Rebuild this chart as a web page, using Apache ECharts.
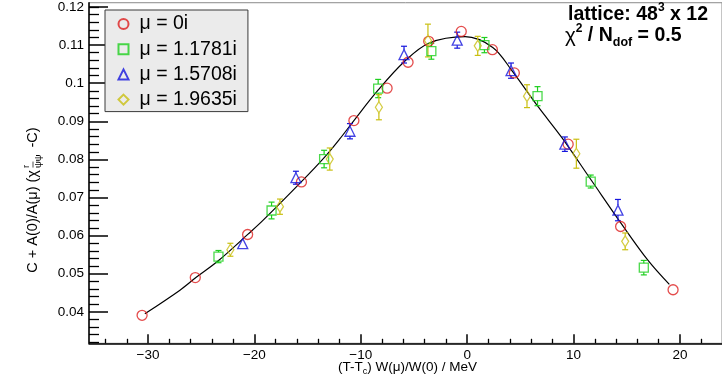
<!DOCTYPE html>
<html><head><meta charset="utf-8">
<script src="https://cdn.jsdelivr.net/npm/echarts@6/dist/echarts.min.js"></script>
<style>html,body{margin:0;padding:0;background:#fff}#c{width:722px;height:383px}</style>
</head><body><div id="c"></div>
<script>
// ---------------- data ----------------
const seriesNames = ['μ = 0i', 'μ = 1.1781i', 'μ = 1.5708i', 'μ = 1.9635i'];
const seriesColors = ['#dd1f1f', '#1ecf1e', '#1515dd', '#c9bf10'];

const mu0X = [-30.56, -25.56, -20.64, -15.58, -10.65, -7.53, -5.56, -3.62, -0.56, 2.37, 4.43, 9.49, 14.42, 19.35];
const mu0Y = [0.0391, 0.0490, 0.0603, 0.0741, 0.0902, 0.0987, 0.1055, 0.1110, 0.1136, 0.1088, 0.1027, 0.0840, 0.0624, 0.0458];
const mu0E = [0.0004, 0.0004, 0.0004, 0.0004, 0.0005, 0.0005, 0.0005, 0.0006, 0.0014, 0.0006, 0.0006, 0.0006, 0.0006, 0.0005];

const mu1X = [-23.38, -18.39, -13.45, -8.37, -3.37, 1.62, 6.61, 11.61, 16.6];
const mu1Y = [0.0545, 0.0666, 0.0801, 0.0986, 0.1084, 0.1100, 0.0966, 0.0742, 0.0516];
const mu1E = [0.0016, 0.0022, 0.0023, 0.0024, 0.0021, 0.0020, 0.0025, 0.0017, 0.0019];

const mu2X = [-21.1, -16.1, -11.02, -5.94, -0.94, 4.12, 9.18, 14.17];
const mu2Y = [0.0579, 0.0752, 0.0874, 0.1075, 0.1113, 0.1033, 0.0840, 0.0667];
const mu2E = [0.0005, 0.0017, 0.0020, 0.0022, 0.0021, 0.0020, 0.0019, 0.0028];

const mu3X = [-22.26, -17.6, -12.92, -8.3, -3.69, 0.99, 5.62, 10.26, 14.85];
const mu3Y = [0.0563, 0.0676, 0.0801, 0.0937, 0.1112, 0.1098, 0.0966, 0.0815, 0.0585];
const mu3E = [0.0017, 0.0020, 0.0029, 0.0033, 0.0043, 0.0025, 0.0030, 0.0038, 0.0022];

// fit curve
const fitX = [-30.3, -27.0, -25.5, -23.4, -20.6, -19.2, -15.6, -13.4, -12.0, -10.65, -8.4, -5.9, -3.6, -0.2, 2.4, 4.2, 6.7, 8.9, 11.7, 14.5, 17.0, 19.0];
const fitY = [0.0395, 0.0457, 0.0490, 0.0534, 0.0604, 0.0640, 0.0741, 0.0806, 0.0853, 0.0902, 0.0981, 0.1057, 0.1105, 0.1122, 0.1094, 0.1033, 0.0937, 0.0857, 0.0744, 0.0631, 0.0535, 0.0472];

// axes
const xMin = -35.55, xMax = 23.95;
const yMin = 0.03175, yMax = 0.12112;
const xMajor = [-30, -20, -10, 0, 10, 20];
const xMajorLabels = ['−30', '−20', '−10', '0', '10', '20'];
const xMinor = [-34, -32, -28, -26, -24, -22, -18, -16, -14, -12, -8, -6, -4, -2, 2, 4, 6, 8, 12, 14, 16, 18, 22];
const yMajor = [0.04, 0.05, 0.06, 0.07, 0.08, 0.09, 0.10, 0.11, 0.12];
const yMajorLabels = ['0.04', '0.05', '0.06', '0.07', '0.08', '0.09', '0.1', '0.11', '0.12'];
const yMinor = [0.032, 0.034, 0.036, 0.038, 0.042, 0.044, 0.046, 0.048, 0.052, 0.054, 0.056, 0.058,
  0.062, 0.064, 0.066, 0.068, 0.072, 0.074, 0.076, 0.078, 0.082, 0.084, 0.086, 0.088,
  0.092, 0.094, 0.096, 0.098, 0.102, 0.104, 0.106, 0.108, 0.112, 0.114, 0.116, 0.118, 0.120];

// ---------------- helpers ----------------
const FONT = '"Liberation Sans", Arial, Helvetica, sans-serif';
const mctx = document.createElement('canvas').getContext('2d');
function tw(t, s, w) { mctx.font = (w || 'normal') + ' ' + s + 'px ' + FONT; return mctx.measureText(t).width; }
function txt(t, x, y, s, w) {
  const font = (w || 'normal') + ' ' + s + 'px ' + FONT;
  return { type: 'text', x: x, y: y, style: { text: t, font: font, fill: '#000',
    textAlign: 'left', textVerticalAlign: 'middle', align: 'left', verticalAlign: 'middle' } };
}
// lay out runs left to right; item: {t,s,w,dy} or {stack:[...]} or {gap}
function layoutRuns(parts, startX, y) {
  const out = [];
  let x = startX;
  parts.forEach(p => {
    if (p.gap) { x += p.gap; return; }
    if (p.stack) {
      let wmax = 0;
      p.stack.forEach(q => {
        out.push(txt(q.t, x, y + (q.dy || 0), q.s, q.w));
        wmax = Math.max(wmax, tw(q.t, q.s, q.w));
        if (q.bar) out.push({ type: 'line', shape: { x1: x + q.bar[0], y1: y + (q.dy || 0) - q.bar[2], x2: x + q.bar[1], y2: y + (q.dy || 0) - q.bar[2] }, style: { stroke: '#000', lineWidth: 0.7 } });
      });
      x += wmax;
    } else {
      out.push(txt(p.t, x, y + (p.dy || 0), p.s, p.w));
      x += tw(p.t, p.s, p.w);
    }
  });
  return { children: out, width: x - startX };
}
function runsWidth(parts) { return layoutRuns(parts, 0, 0).width; }

function pairs(xs, ys, es) { return xs.map((x, i) => es ? [x, ys[i], es[i]] : [x, ys[i]]); }
function idxLabel(vals, labels, v) { let bi = 0, bd = Infinity; vals.forEach((u, i) => { const d = Math.abs(u - v); if (d < bd) { bd = d; bi = i; } }); return bd < 1e-6 ? labels[bi] : ''; }

function errRender(gap) {
  return function (params, api) {
    const x = api.value(0), y = api.value(1), e = api.value(2);
    const p = api.coord([x, y]), t = api.coord([x, y + e]), b = api.coord([x, y - e]);
    const col = api.visual('color');
    const st = { stroke: col, lineWidth: 1.2 };
    const ch = [];
    const cap = 3;
    if (p[1] - t[1] > gap + 0.5) {
      ch.push({ type: 'line', shape: { x1: p[0], y1: p[1] - gap, x2: p[0], y2: t[1] }, style: st });
      ch.push({ type: 'line', shape: { x1: p[0] - cap, y1: t[1], x2: p[0] + cap, y2: t[1] }, style: st });
    }
    if (b[1] - p[1] > gap + 0.5) {
      ch.push({ type: 'line', shape: { x1: p[0], y1: p[1] + gap, x2: p[0], y2: b[1] }, style: st });
      ch.push({ type: 'line', shape: { x1: p[0] - cap, y1: b[1], x2: p[0] + cap, y2: b[1] }, style: st });
    }
    return { type: 'group', children: ch };
  };
}

// ---------------- series ----------------
const dataSets = [pairs(mu0X, mu0Y, mu0E), pairs(mu1X, mu1Y, mu1E), pairs(mu2X, mu2Y, mu2E), pairs(mu3X, mu3Y, mu3E)];
const symbols = ['circle', 'rect', 'triangle', 'diamond'];
const symbolSizes = [10, 9, [10, 10], [7, 11]];
const gaps = [5, 4.5, 5, 5.5];

const series = [{
  type: 'line', name: 'fit', data: pairs(fitX, fitY), smooth: 0.35, showSymbol: false, symbol: 'none',
  lineStyle: { color: '#000', width: 1.2 }, z: 1, silent: true
}];
dataSets.forEach((d, i) => {
  series.push({
    type: 'custom', name: 'err' + i, data: d, renderItem: errRender(gaps[i]),
    itemStyle: { color: seriesColors[i] }, encode: { x: 0, y: 1 }, z: 2, silent: true
  });
  series.push({
    type: 'scatter', name: seriesNames[i], data: d.map(r => [r[0], r[1]]),
    symbol: symbols[i], symbolSize: symbolSizes[i],
    itemStyle: { color: 'rgba(255,255,255,0)', borderColor: seriesColors[i], borderWidth: 1.3 }, z: 3, silent: true
  });
});

// ---------------- titles ----------------
const S = 13.5;
const SY = 14.5;
const yTitleParts = [
  { t: 'C + A(0)/A(μ) (χ', s: SY },
  { gap: 2 },
  { stack: [{ t: 'r', s: 9.5, dy: -6.5 }, { t: 'ψψ', s: 9.5, dy: 5.5, bar: [0.5, 6.5, 5.5] }] },
  { gap: 3 },
  { t: ' -C)', s: SY }
];
const yW = runsWidth(yTitleParts);
const yTitle = layoutRuns(yTitleParts, -yW / 2, 0);

const xTitleParts = [
  { t: '(T-T', s: S }, { t: 'c', s: 9, dy: 4.5 }, { t: ') W(μ)/W(0) / MeV', s: S }
];
const xW = runsWidth(xTitleParts);
const xTitle = layoutRuns(xTitleParts, 407.5 - xW / 2, 367);

const line1 = layoutRuns([
  { t: 'lattice: 48', s: 19.5, w: 'bold' }, { t: '3', s: 12, w: 'bold', dy: -7 }, { t: ' x 12', s: 19.5, w: 'bold' }
], 568, 15);
const line2 = layoutRuns([
  { t: 'χ', s: 20.5 }, { t: '2', s: 12, w: 'bold', dy: -7 }, { t: ' / N', s: 19.5, w: 'bold' }, { t: 'dof', s: 12.5, w: 'bold', dy: 7 }, { t: ' = 0.5', s: 19.5, w: 'bold' }
], 565, 36);

const chart = echarts.init(document.getElementById('c'), null, { renderer: 'canvas' });
chart.setOption({
  animation: false,
  backgroundColor: '#fff',
  grid: { left: 89, top: 1, right: -2.5, bottom: 39.7, show: true, borderColor: '#8a8a8a', borderWidth: 1, backgroundColor: 'rgba(0,0,0,0)' },
  legend: {
    data: seriesNames, orient: 'vertical', left: 105, top: 10,
    padding: [4, 11, 2, 12.5], itemGap: 5.2, itemWidth: 10, itemHeight: 10,
    backgroundColor: '#ebebeb', borderColor: '#3a3a3a', borderWidth: 1, borderRadius: 0,
    textStyle: { fontSize: 19.5, fontFamily: FONT, color: '#000', padding: [0, 0, 0, 6] },
    selectedMode: false
  },
  xAxis: [{
    type: 'value', min: xMin, max: xMax, position: 'bottom',
    axisLine: { show: true, onZero: false, lineStyle: { color: '#000', width: 1.5 } },
    axisTick: { show: true, inside: true, length: 9, customValues: xMajor, lineStyle: { color: '#000', width: 1.5 } },
    axisLabel: { show: true, customValues: xMajor, margin: 5, fontSize: 13.5, fontFamily: FONT, color: '#000', formatter: v => idxLabel(xMajor, xMajorLabels, v) },
    splitLine: { show: false }
  }, {
    type: 'value', min: xMin, max: xMax, position: 'bottom', gridIndex: 0,
    axisLine: { show: false, onZero: false },
    axisTick: { show: true, inside: true, length: 4.5, customValues: xMinor, lineStyle: { color: '#000', width: 1.3 } },
    axisLabel: { show: false }, splitLine: { show: false }
  }],
  yAxis: [{
    type: 'value', min: yMin, max: yMax, position: 'left',
    axisLine: { show: true, onZero: false, lineStyle: { color: '#000', width: 1.5 } },
    axisTick: { show: true, inside: true, length: 19, customValues: yMajor, lineStyle: { color: '#000', width: 1.5 } },
    axisLabel: { show: true, customValues: yMajor, margin: 5, fontSize: 13.5, fontFamily: FONT, color: '#000', formatter: v => idxLabel(yMajor, yMajorLabels, v) },
    splitLine: { show: false }
  }, {
    type: 'value', min: yMin, max: yMax, position: 'left', gridIndex: 0,
    axisLine: { show: false, onZero: false },
    axisTick: { show: true, inside: true, length: 10, customValues: yMinor, lineStyle: { color: '#000', width: 1.3 } },
    axisLabel: { show: false }, splitLine: { show: false }
  }],
  series: series,
  graphic: [
    { type: 'group', x: 33, y: 200, rotation: Math.PI / 2, children: yTitle.children },
    { type: 'group', children: xTitle.children },
    { type: 'group', children: line1.children },
    { type: 'group', children: line2.children }
  ]
});
</script></body></html>
